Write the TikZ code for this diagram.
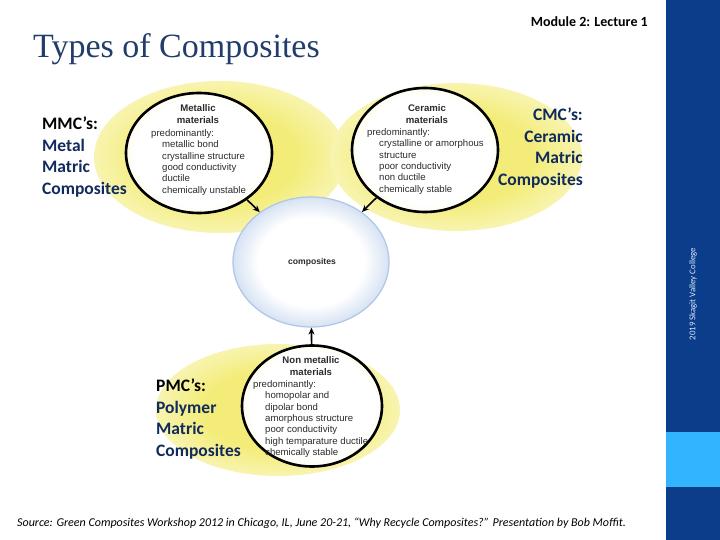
\documentclass[tikz,border=0pt]{standalone}
\usepackage{fontspec}
\setmainfont{Liberation Sans}
\newfontfamily\calib{Carlito}
\newfontfamily\titlefont{Liberation Serif}
\usetikzlibrary{shapes.geometric,arrows.meta}
\definecolor{glowY}{HTML}{F3EC78}
\definecolor{glowYlight}{HTML}{F8F4B0}
\definecolor{innerY}{HTML}{F7F2B8}
\definecolor{compEdge}{HTML}{AFC6E6}
\definecolor{compMid}{HTML}{D6E2F3}
\definecolor{barblue}{HTML}{0B3D8A}
\definecolor{lightbar}{HTML}{33B4FF}
\definecolor{titleblue}{HTML}{213D6B}
\definecolor{navy}{HTML}{102B5C}
\definecolor{txtgray}{HTML}{2B2B2B}
\definecolor{verttext}{HTML}{DCEBFF}
\pgfdeclareradialshading{glowsh}{\pgfpoint{0bp}{0bp}}{color(0bp)=(glowY);color(15bp)=(glowY);color(25bp)=(glowYlight);color(35bp)=(white);color(50bp)=(white)}
\pgfdeclareradialshading{innersh}{\pgfpoint{0bp}{0bp}}{color(0bp)=(white);color(22bp)=(white);color(35bp)=(innerY);color(50bp)=(innerY)}
\pgfdeclareradialshading{compsh}{\pgfpoint{0bp}{0bp}}{color(0bp)=(white);color(17bp)=(white);color(25bp)=(compMid);color(31bp)=(compEdge);color(50bp)=(compEdge)}
\begin{document}
\begin{tikzpicture}[x=1pt,y=-1pt,
  ring/.style={ellipse, draw=black, line width=2.6pt, inner sep=0pt, shade, shading=innersh},
  compring/.style={ellipse, draw=compEdge, line width=1.2pt, inner sep=0pt, shade, shading=compsh},
  glow/.style={shading=glowsh},
  head/.style={font=\bfseries\fontsize{9.6}{11.3}\selectfont, text=txtgray, align=center, inner sep=0pt},
  body/.style={font=\fontsize{9.6}{11.3}\selectfont, text=txtgray, align=left, inner sep=0pt, anchor=north west},
  side/.style={font=\calib\bfseries\fontsize{17.5}{21.5}\selectfont, text=navy, inner sep=0pt},
  conn/.style={-{Stealth[length=7pt,width=6pt]}, line width=1.6pt, black}
]
\useasboundingbox (0,0) rectangle (720,540);
\fill[white] (0,0) rectangle (720,540);
% right bar
\fill[barblue] (666,0) rectangle (720,540);
\fill[lightbar] (666,432) rectangle (720,487);
\node[rotate=90, font=\calib\fontsize{8.8}{10}\selectfont, text=verttext, inner sep=0pt] (vert) at (693,294) {2019 Skagit Valley College};
% title and header
\node[anchor=base west, font=\titlefont\fontsize{34}{40}\selectfont, text=titleblue, inner sep=0pt] (title) at (33,58) {Types of Composites};
\node[anchor=base east, font=\calib\bfseries\fontsize{14}{16}\selectfont, inner sep=0pt] (module) at (648,27) {Module 2: Lecture 1};
% glows
\shade[glow] (220,157) ellipse [x radius=126pt, y radius=76pt];
\shade[glow] (456,157) ellipse [x radius=126pt, y radius=74pt];
\shade[glow] (278,410) ellipse [x radius=122pt, y radius=66pt];
% composites
\node[compring, minimum width=156pt, minimum height=130pt] (comp) at (311,262) {};
\node[font=\bfseries\fontsize{8.6}{10}\selectfont, text=txtgray, inner sep=0pt] (complbl) at (312,262) {composites};
% material rings
\node[ring, minimum width=146pt, minimum height=120pt] (metal) at (199,153) {};
\node[ring, minimum width=146pt, minimum height=124pt] (ceram) at (425,150) {};
\node[ring, minimum width=140pt, minimum height=121pt] (nonmet) at (312,406) {};
% texts in rings
\node[head] (metalh) at (198,114) {Metallic\\materials};
\node[body] (metalb) at (151,129.5) {predominantly:\\\hspace*{11pt}metallic bond\\\hspace*{11pt}crystalline structure\\\hspace*{11pt}good conductivity\\\hspace*{11pt}ductile\\\hspace*{11pt}chemically unstable};
\node[head] (ceramh) at (427,114) {Ceramic\\materials};
\node[body] (ceramb) at (367,128.5) {predominantly:\\\hspace*{12pt}crystalline or amorphous\\\hspace*{12pt}structure\\\hspace*{12pt}poor conductivity\\\hspace*{12pt}non ductile\\\hspace*{12pt}chemically stable};
\node[head] (nonmeth) at (311,366) {Non metallic\\materials};
\node[body] (nonmetb) at (253,380.5) {predominantly:\\\hspace*{12pt}homopolar and\\\hspace*{12pt}dipolar bond\\\hspace*{12pt}amorphous structure\\\hspace*{12pt}poor conductivity\\\hspace*{12pt}high temparature ductile\\\hspace*{12pt}chemically stable};
% connectors
\draw[conn] (metal) -- (comp);
\draw[conn] (ceram) -- (comp);
\draw[conn] (nonmet) -- (comp);
% side labels
\node[side, anchor=north west, align=left] (mmc) at (42,117) {\textcolor{black}{MMC’s:}\\Metal\\Matric\\Composites};
\node[side, anchor=north east, align=right] (cmc) at (583,108) {CMC’s:\\Ceramic\\Matric\\Composites};
\node[side, anchor=north west, align=left] (pmc) at (156,379) {\textcolor{black}{PMC’s:}\\Polymer\\Matric\\Composites};
% source
\node[anchor=base west, font=\calib\itshape\fontsize{12}{14}\selectfont, inner sep=0pt] (src) at (17,526) {Source: Green Composites Workshop 2012 in Chicago, IL, June 20-21, “Why Recycle Composites?” Presentation by Bob Moffit.};
\end{tikzpicture}
\end{document}
